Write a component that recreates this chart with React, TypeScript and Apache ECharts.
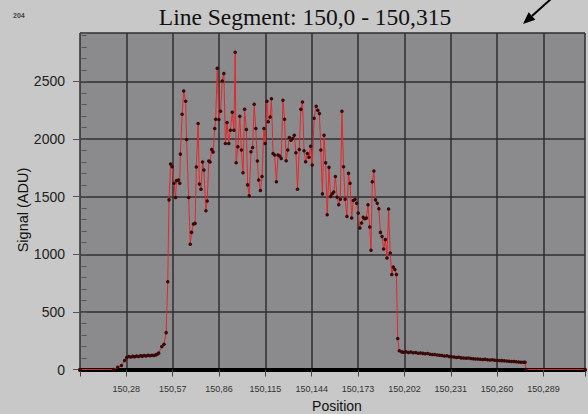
import React, { useEffect, useRef } from "react";
import * as echarts from "echarts";

const titleText = "Line Segment: 150,0 - 150,315";
const cornerLabel = "204";
const yAxisTitle = "Signal (ADU)";
const xAxisTitle = "Position";
const xPrefix = "150,";

const positions = [
  -1, 20, 22.6, 24.9, 26.9, 28.2, 29.5, 30.7, 32, 33.2, 34.4, 35.6, 36.8, 38, 39.2, 40.4, 41.6, 42.8, 44, 45.2,
  46.4, 47.3, 48.2, 50.2, 51.6, 52.9, 53.9, 54.7, 55.7, 56.7, 57.8, 58.8, 59.4, 60.6, 61.4, 61.8, 62.9, 63.9,
  65.1, 65.7, 67, 68, 68.8, 70, 71, 71.8, 72.9, 73.7, 74.7, 75.7, 76.5, 77.8, 78.6, 79.6, 80.4, 81.4, 82.3,
  83.3, 83.9, 84.9, 85.9, 86.9, 88, 89, 90, 91, 92.1, 93.1, 94.3, 95.3, 96.1, 96.7, 97.8, 99, 100, 101, 102,
  103.1, 103.9, 104.9, 106, 107, 108, 109, 110, 110.8, 111.9, 112.9, 114.1, 114.9, 116, 116.8, 118, 118.8,
  119.8, 120.8, 121.9, 122.9, 123.9, 124.9, 126, 127, 128, 129, 130, 131, 132.1, 133.1, 134.1, 135.1, 136.2,
  137.2, 138.2, 139.2, 140.2, 141.3, 142.3, 143.3, 144.3, 145.5, 146.8, 147.8, 148.8, 149.7, 150.7, 151.7,
  152.7, 153.7, 154.8, 155.8, 156.8, 157.8, 158.8, 159.9, 160.9, 161.9, 162.9, 163.9, 164.9, 166, 167, 168,
  169, 170, 171.1, 172.1, 173.1, 174.1, 175.2, 176.2, 177.2, 178.2, 179.2, 180.3, 181.1, 181.9, 182.9, 183.9,
  185, 186, 187, 188, 189, 190.1, 191.1, 192.1, 193.1, 194.1, 195, 196, 197, 197.8, 198.8, 200.3, 201.5, 203,
  204.5, 206, 207.5, 209, 210.5, 212, 213.5, 215, 216.5, 218, 219.5, 221, 222.5, 224, 225.5, 227, 228.5, 230,
  231.5, 233, 234.5, 236, 237.5, 239, 240.5, 242, 243.5, 245, 246.5, 248, 249.5, 251, 252.5, 254, 255.5, 257,
  258.5, 260, 261.5, 263, 264.5, 266, 267.5, 269, 270.5, 272, 273.5, 275, 276.5, 277.5, 278, 315,
];

const signals = [
  0, 0, 20, 35, 78, 105, 112, 108, 114, 110, 117, 113, 120, 116, 121, 118, 123, 119, 124, 121,
  127, 132, 142, 200, 220, 320, 761, 1472, 1783, 1760, 1616, 1492, 1639, 1645, 1616, 1869, 2215, 2416,
  2327, 1996, 1492, 1086, 1190, 1262, 1268, 1757, 2134, 1610, 1564, 1800, 1731, 1377, 1463, 1809, 1800, 1910, 1887,
  2091, 2172, 2615, 2169, 2241, 2503, 2569, 1961, 2143, 1961, 2077, 2232, 2077, 2753, 1795, 1933, 2198, 1904, 1708, 2258,
  2082, 1602, 1507, 1890, 1927, 2301, 2091, 1809, 1645, 1553, 1674, 2091, 1961, 2327, 2149, 2192, 2350,
  1875, 1861, 1630, 1861, 1852, 1832, 2336, 2172, 1812, 1904, 2013, 1990, 2005, 2033, 1881, 1564, 1910,
  2258, 2321, 1898, 1803, 1875, 1841, 1938, 1774, 2180, 2284, 2249, 2221, 1904, 1524, 2033,
  1795, 1342, 1754, 1501, 1524, 1541, 1674, 1495, 1429, 1478, 2241, 1760, 1478, 1328, 1702, 1616,
  1314, 1466, 1478, 1443, 1357, 1227, 1271, 1322, 1308, 1314, 1429, 1236, 1034, 1630, 1723, 1472,
  1443, 1394, 1190, 1155, 1046, 1127, 968, 1392, 1011, 824, 890, 867, 824, 269, 162, 153, 150, 154,
  148, 151, 145, 147, 141, 144, 140, 136, 138, 133, 130, 131, 126, 124, 121, 117, 119, 113,
  110, 108, 105, 106, 101, 100, 98, 99, 96, 94, 91, 92, 89, 87, 88, 85, 83, 84,
  80, 79, 78, 77, 75, 73, 72, 70, 69, 67, 66, 63, 62, 62, 0, 0,
];

export default function App() {
  const ref = useRef<HTMLDivElement>(null);

  useEffect(() => {
    if (!ref.current) return;
    const chart = echarts.init(ref.current, null, { renderer: "svg" });
    const data = positions.map((p, i) => [p, signals[i]]);

    const dx = -27;
    const dy = 24;
    const len = Math.sqrt(dx * dx + dy * dy);
    const ux = dx / len;
    const uy = dy / len;
    const tip = [523, 24];
    const base = [tip[0] - 12 * ux, tip[1] - 12 * uy];
    const px = -uy;
    const py = ux;

    chart.setOption({
      animation: false,
      backgroundColor: "#c8c8c8",
      grid: {
        left: 80,
        top: 33,
        right: -7,
        bottom: 44.5,
        show: true,
        backgroundColor: "#8b8b8d",
        borderWidth: 0,
      },
      xAxis: {
        type: "value",
        min: -1,
        max: 315,
        interval: 29,
        axisLine: { onZero: false, lineStyle: { color: "#000", width: 4 } },
        axisTick: { show: true, length: 7, lineStyle: { color: "#444", width: 1 } },
        axisLabel: {
          formatter: (v: number) => (v < 0 || v > 300 ? "" : xPrefix + v),
          fontFamily: "Liberation Sans",
          fontSize: 9,
          color: "#333",
          margin: 15,
        },
        splitLine: { show: true, lineStyle: { color: "#2e2e2e", width: 1.5 } },
      },
      yAxis: [
        {
          type: "value",
          min: 0,
          max: 2920,
          interval: 500,
          position: "left",
          axisLine: { show: true, onZero: false, lineStyle: { color: "#444", width: 1 } },
          axisTick: { show: true, length: 7, lineStyle: { color: "#555", width: 1 } },
          axisLabel: {
            showMaxLabel: false,
            formatter: (v: number) => String(v),
            fontFamily: "Liberation Sans",
            fontSize: 14,
            color: "#222",
            margin: 15,
          },
          splitLine: { show: true, lineStyle: { color: "#2e2e2e", width: 1.5 } },
        },
        {
          type: "value",
          min: 0,
          max: 2920,
          interval: 100,
          position: "left",
          axisLine: { show: false },
          axisTick: { show: true, inside: true, length: 5, lineStyle: { color: "#555", width: 1 } },
          axisLabel: { show: false },
          splitLine: { show: false },
        },
      ],
      series: [
        {
          type: "line",
          data,
          xAxisIndex: 0,
          yAxisIndex: 0,
          symbol: "circle",
          symbolSize: 3.5,
          showSymbol: true,
          itemStyle: { color: "#3a0808" },
          lineStyle: { color: "#e8262a", width: 1 },
          z: 3,
        },
      ],
      graphic: [
        {
          type: "text",
          x: 305,
          y: 5,
          style: {
            text: titleText,
            fontFamily: "Liberation Serif",
            fontSize: 23.5,
            fill: "#111",
            textAlign: "center",
            textVerticalAlign: "top",
          },
        },
        {
          type: "text",
          x: 13,
          y: 12,
          style: {
            text: cornerLabel,
            fontFamily: "Liberation Sans",
            fontSize: 7,
            fontWeight: "bold",
            fill: "#444",
          },
        },
        {
          type: "text",
          x: 23,
          y: 210,
          rotation: Math.PI / 2,
          style: {
            text: yAxisTitle,
            fontFamily: "Liberation Sans",
            fontSize: 14.5,
            fill: "#111",
            textAlign: "center",
            textVerticalAlign: "middle",
          },
        },
        {
          type: "text",
          x: 337,
          y: 399,
          style: {
            text: xAxisTitle,
            fontFamily: "Liberation Sans",
            fontSize: 14,
            fill: "#111",
            textAlign: "center",
            textVerticalAlign: "top",
          },
        },
        {
          type: "line",
          shape: { x1: 552, y1: -2, x2: base[0], y2: base[1] },
          style: { stroke: "#000", lineWidth: 2 },
        },
        {
          type: "polygon",
          shape: {
            points: [
              tip,
              [base[0] + 5 * px, base[1] + 5 * py],
              [base[0] - 5 * px, base[1] - 5 * py],
            ],
          },
          style: { fill: "#000" },
        },
      ],
    });

    return () => chart.dispose();
  }, []);

  return (
    <div
      ref={ref}
      style={{ position: "fixed", left: 0, top: 0, width: 588, height: 414 }}
    />
  );
}
